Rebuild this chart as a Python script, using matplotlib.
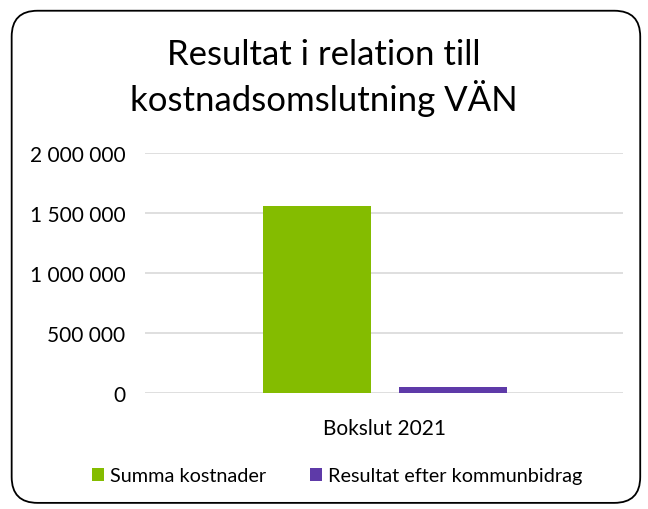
import matplotlib.pyplot as plt
from matplotlib.patches import FancyBboxPatch
import numpy as np

# data
categories = ['Bokslut 2021']
series_names = ['Summa kostnader', 'Resultat efter kommunbidrag']
series_values = [[1558000], [50000]]
colors = ['#84BC00', '#5E3AA8']
yticks = [0, 500000, 1000000, 1500000, 2000000]

plt.rcParams['font.family'] = ['Lato', 'DejaVu Sans']

fig = plt.figure(figsize=(6.48, 5.10), dpi=100)
ax = fig.add_axes([0.2238, 0.2275, 0.7376, 0.4706])

# rounded frame around the chart
frame = FancyBboxPatch((0.018, 0.012), 0.97, 0.965, boxstyle='round,pad=0,rounding_size=0.04',
                       transform=fig.transFigure, facecolor='none', edgecolor='black',
                       linewidth=1.3, mutation_aspect=648 / 510)
fig.patches.append(frame)

x = np.arange(len(categories))
width = 0.226
offsets = [-0.14, 0.144]
for name, vals, c, off in zip(series_names, series_values, colors, offsets):
    ax.bar(x + off, vals, width, color=c, label=name, zorder=3)

ax.set_xlim(-0.5, 0.5)
ax.set_ylim(0, 2000000)
ax.set_yticks(yticks)
ax.set_yticklabels([f'{v:,}'.replace(',', ' ') for v in yticks])
ax.set_xticks(x)
ax.set_xticklabels(categories)
ax.grid(axis='y', color='#D9D9D9', linewidth=1.2, zorder=0)
for s in ax.spines.values():
    s.set_visible(False)
ax.tick_params(axis='both', length=0, labelsize=15, colors='black')
ax.tick_params(axis='y', pad=14)
ax.tick_params(axis='x', pad=18)

fig.text(0.5, 0.847, 'Resultat i relation till\nkostnadsomslutning VÄN', ha='center', va='center',
         fontsize=25, linespacing=1.3)

fig.legend(loc='center', bbox_to_anchor=(0.52, 0.065), ncol=2, frameon=False, fontsize=14.3,
           handlelength=0.6, handleheight=0.6, handletextpad=0.3, columnspacing=2.2)

fig.savefig('out.png', dpi=100)
